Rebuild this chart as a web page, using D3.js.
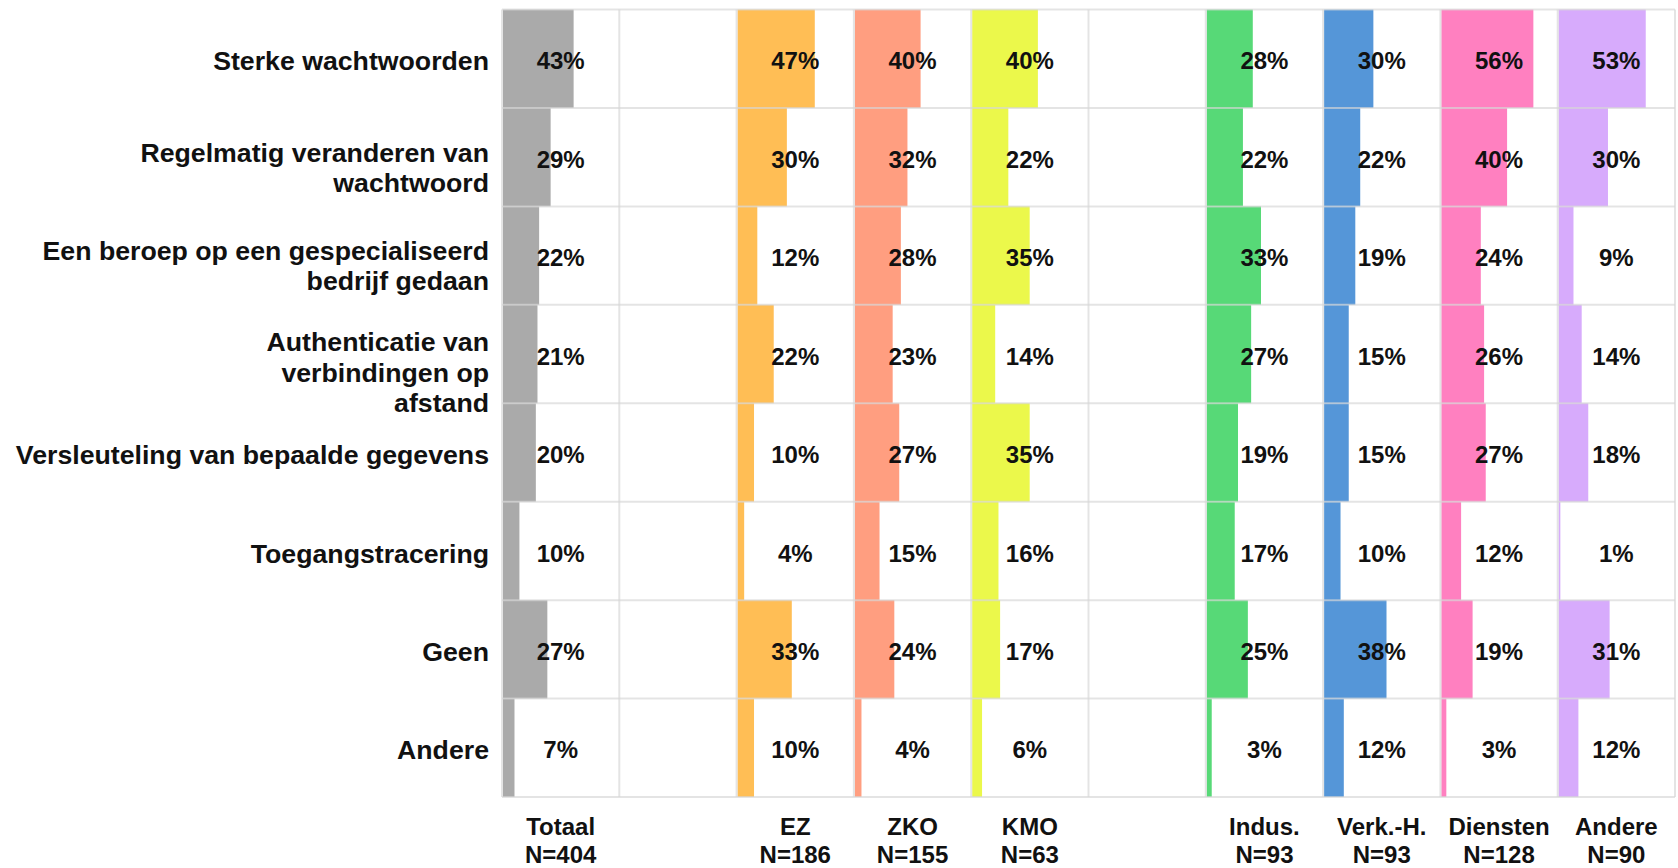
<!DOCTYPE html>
<html>
<head>
<meta charset="utf-8">
<script src="https://cdn.jsdelivr.net/npm/d3@7"></script>
<style>
  body { margin: 0; background: #fff; }
  text { font-family: "Liberation Sans", Arial, sans-serif; font-weight: bold; fill: #111; }
</style>
</head>
<body>
<script>
// categories (rows), split on "|" for line breaks
var measures = [
  "Sterke wachtwoorden",
  "Regelmatig veranderen van|wachtwoord",
  "Een beroep op een gespecialiseerd|bedrijf gedaan",
  "Authenticatie van|verbindingen op|afstand",
  "Versleuteling van bepaalde gegevens",
  "Toegangstracering",
  "Geen",
  "Andere"
];

var groups = ["Totaal", "EZ", "ZKO", "KMO", "Indus.", "Verk.-H.", "Diensten", "Andere"];
var groupN = [404, 186, 155, 63, 93, 93, 128, 90];
var groupColors = ["#aaaaaa", "#ffbe55", "#ff9e80", "#ebf84b", "#57d977", "#5596d8", "#ff80c0", "#d7abfc"];

// percentages, one array per group, same order as measures
var totaal   = [43, 29, 22, 21, 20, 10, 27, 7];
var ez       = [47, 30, 12, 22, 10, 4, 33, 10];
var zko      = [40, 32, 28, 23, 27, 15, 24, 4];
var kmo      = [40, 22, 35, 14, 35, 16, 17, 6];
var indus    = [28, 22, 33, 27, 19, 17, 25, 3];
var verk     = [30, 22, 19, 15, 15, 10, 38, 12];
var diensten = [56, 40, 24, 26, 27, 12, 19, 3];
var andere   = [53, 30, 9, 14, 18, 1, 31, 12];

var values = [totaal, ez, zko, kmo, indus, verk, diensten, andere];

var width = 1678, height = 868;
var margin = {top: 9.5, left: 502, right: 3, bottom: 71};

var svg = d3.select("body").append("svg")
    .attr("width", width)
    .attr("height", height);

// column slots, with two empty gaps
var slots = ["Totaal", "_gap1", "EZ", "ZKO", "KMO", "_gap2", "Indus.", "Verk.-H.", "Diensten", "Andere"];

var x = d3.scaleBand()
    .domain(slots)
    .range([margin.left, width - margin.right]);

var y = d3.scaleBand()
    .domain(measures)
    .range([margin.top, height - margin.bottom]);

var barW = d3.scaleLinear()
    .domain([0, 100])
    .range([0, x.bandwidth() * 1.4]);

var cells = [];
groups.forEach(function(g, gi) {
  measures.forEach(function(m, mi) {
    cells.push({group: g, gi: gi, measure: m, value: values[gi][mi]});
  });
});

// bars
svg.append("g").selectAll("rect")
    .data(cells)
    .enter().append("rect")
    .attr("x", function(d) { return x(d.group) + 1; })
    .attr("y", function(d) { return y(d.measure); })
    .attr("width", function(d) { return barW(d.value); })
    .attr("height", y.bandwidth())
    .style("fill", function(d) { return groupColors[d.gi]; });

// grid lines on top
var grid = svg.append("g")
    .style("stroke", "#d6d6d6")
    .style("stroke-opacity", 0.65)
    .style("stroke-width", 2);

var rowEdges = measures.map(function(m) { return y(m); }).concat([y.range()[1]]);
grid.selectAll(".hline")
    .data(rowEdges)
    .enter().append("line")
    .attr("class", "hline")
    .attr("x1", x.range()[0])
    .attr("x2", x.range()[1])
    .attr("y1", function(d) { return d; })
    .attr("y2", function(d) { return d; });

var colEdges = slots.map(function(s) { return x(s); }).concat([x.range()[1]]);
grid.selectAll(".vline")
    .data(colEdges)
    .enter().append("line")
    .attr("class", "vline")
    .attr("x1", function(d) { return d; })
    .attr("x2", function(d) { return d; })
    .attr("y1", y.range()[0])
    .attr("y2", y.range()[1]);

// value labels
svg.append("g").selectAll("text")
    .data(cells)
    .enter().append("text")
    .attr("x", function(d) { return x(d.group) + x.bandwidth() / 2; })
    .attr("y", function(d) { return y(d.measure) + y.bandwidth() / 2 + 2; })
    .attr("dy", "0.36em")
    .style("text-anchor", "middle")
    .style("font-size", "24px")
    .text(function(d) { return d.value + "%"; });

// row labels
var lineH = 30.5;
var rowLabels = svg.append("g").selectAll("text")
    .data(measures)
    .enter().append("text")
    .style("text-anchor", "end")
    .style("font-size", "26.7px")
    .attr("transform", function(d) {
      var lines = d.split("|");
      var mid = y(d) + y.bandwidth() / 2 + 2 + 8 * (lines.length - 1);
      var top = mid - (lines.length - 1) * lineH / 2;
      return "translate(489," + top + ")";
    });

rowLabels.selectAll("tspan")
    .data(function(d) { return d.split("|"); })
    .enter().append("tspan")
    .attr("x", 0)
    .attr("y", function(d, i) { return i * lineH; })
    .attr("dy", "0.36em")
    .text(function(d) { return d; });

// column headers at the bottom
var heads = svg.append("g").selectAll("text")
    .data(groups)
    .enter().append("text")
    .style("text-anchor", "middle")
    .style("font-size", "24px")
    .attr("transform", function(d) {
      return "translate(" + (x(d) + x.bandwidth() / 2) + ",826)";
    });

heads.append("tspan")
    .attr("x", 0)
    .attr("dy", "0.36em")
    .text(function(d) { return d; });

heads.append("tspan")
    .attr("x", 0)
    .attr("y", 28)
    .attr("dy", "0.36em")
    .text(function(d, i) { return "N=" + groupN[i]; });
</script>
</body>
</html>
